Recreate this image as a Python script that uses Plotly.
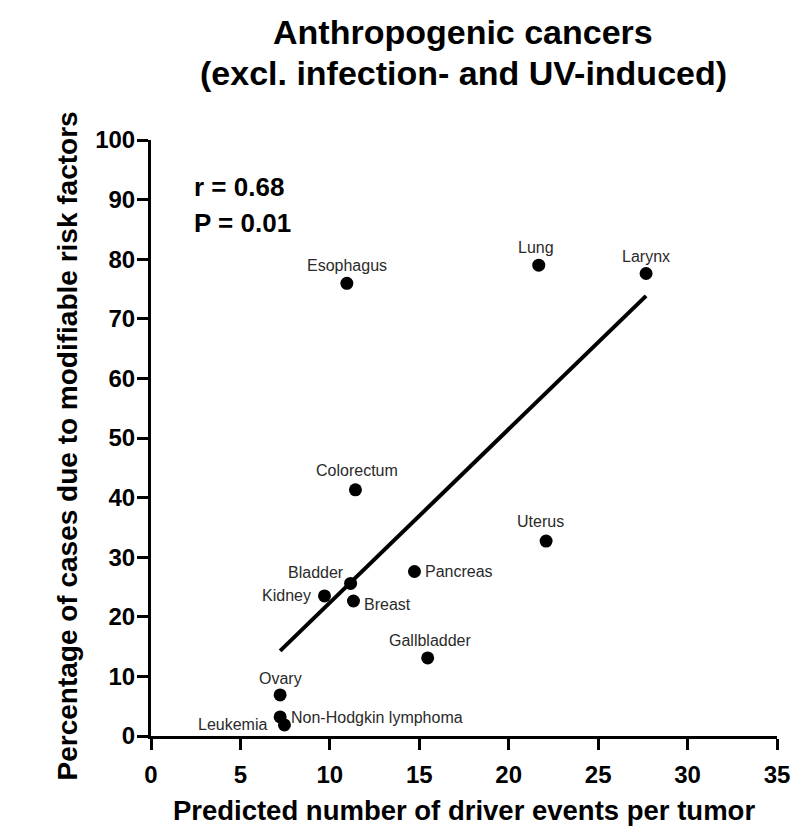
import numpy as np
import plotly.graph_objects as go

cancers = ["Esophagus", "Lung", "Larynx", "Colorectum", "Uterus", "Pancreas",
           "Bladder", "Kidney", "Breast", "Gallbladder", "Ovary", "Leukemia",
           "Non-Hodgkin lymphoma"]
driver_events = [10.95, 21.68, 27.68, 11.43, 22.09, 14.73, 11.16, 9.70, 11.32,
                 15.47, 7.22, 7.22, 7.46]
pct_modifiable = [75.95, 79.0, 77.6, 41.3, 32.7, 27.6, 25.6, 23.5, 22.65,
                  13.1, 6.9, 3.2, 1.85]
x_ticks = [0, 5, 10, 15, 20, 25, 30, 35]
y_ticks = [0, 10, 20, 30, 40, 50, 60, 70, 80, 90, 100]
stats_text = ["r = 0.68", "P = 0.01"]
title_lines = ["Anthropogenic cancers", "(excl. infection- and UV-induced)"]
x_title = "Predicted number of driver events per tumor"
y_title = "Percentage of cases due to modifiable risk factors"

# label placement (pixel offsets / anchors) per cancer
label_pos = {
    "Esophagus": dict(xanchor="center", yanchor="bottom", xshift=0, yshift=7),
    "Lung": dict(xanchor="center", yanchor="bottom", xshift=-3, yshift=7),
    "Larynx": dict(xanchor="center", yanchor="bottom", xshift=0, yshift=7),
    "Colorectum": dict(xanchor="center", yanchor="bottom", xshift=2, yshift=9),
    "Uterus": dict(xanchor="center", yanchor="bottom", xshift=-6, yshift=9),
    "Pancreas": dict(xanchor="left", yanchor="middle", xshift=9, yshift=0),
    "Bladder": dict(xanchor="right", yanchor="middle", xshift=-5, yshift=11),
    "Kidney": dict(xanchor="right", yanchor="middle", xshift=-11, yshift=0),
    "Breast": dict(xanchor="left", yanchor="middle", xshift=9, yshift=-3),
    "Gallbladder": dict(xanchor="center", yanchor="bottom", xshift=3, yshift=7),
    "Ovary": dict(xanchor="center", yanchor="bottom", xshift=0, yshift=6),
    "Leukemia": dict(xanchor="right", yanchor="middle", xshift=-11, yshift=-8),
    "Non-Hodgkin lymphoma": dict(xanchor="left", yanchor="middle", xshift=5, yshift=7),
}

FONT = "Liberation Sans, Arial, sans-serif"

x = np.array(driver_events)
y = np.array(pct_modifiable)
slope, intercept = np.polyfit(x, y, 1)
fit_x = np.array([x.min(), x.max()])
fit_y = slope * fit_x + intercept

fig = go.Figure()
fig.add_trace(go.Scatter(x=fit_x, y=fit_y, mode="lines",
                         line=dict(color="black", width=4), hoverinfo="skip"))
fig.add_trace(go.Scatter(x=driver_events, y=pct_modifiable, mode="markers",
                         marker=dict(color="black", size=13), text=cancers,
                         cliponaxis=False))

for name, xv, yv in zip(cancers, driver_events, pct_modifiable):
    p = label_pos[name]
    fig.add_annotation(x=xv, y=yv, text=name, showarrow=False,
                       font=dict(family=FONT, size=16, color="#2a2a2a"), **p)

for txt, yv in zip(stats_text, [92.1, 86.1]):
    fig.add_annotation(x=2.3, y=yv, text=txt, showarrow=False,
                       xanchor="left", yanchor="middle",
                       font=dict(family=FONT, size=26, color="black", weight="bold"))

# title lines (paper coordinates above the plot area)
for txt, yv in zip(title_lines, [1.182, 1.113]):
    fig.add_annotation(xref="paper", yref="paper", x=0.499, y=yv, text=txt,
                       showarrow=False, xanchor="center", yanchor="middle",
                       font=dict(family=FONT, size=34, color="black", weight="bold"))

# y-axis title as rotated text
fig.add_annotation(xref="paper", yref="paper", x=-0.133, y=0.487, text=y_title,
                   textangle=-90, showarrow=False, xanchor="center", yanchor="middle",
                   font=dict(family=FONT, size=28, color="black", weight="bold"))

axis_common = dict(showgrid=False, zeroline=False, showline=True,
                   linecolor="black", linewidth=3, ticks="outside",
                   ticklen=11, tickwidth=3, tickcolor="black", automargin=False,
                   tickfont=dict(family=FONT, size=24, color="black", weight="bold"))

fig.update_xaxes(range=[0, 35], tickvals=x_ticks, ticktext=[str(t) for t in x_ticks],
                 ticklabelstandoff=4,
                 title=dict(text=x_title,
                            font=dict(family=FONT, size=27.5, color="black", weight="bold"),
                            standoff=18),
                 **axis_common)
fig.update_yaxes(range=[0, 100], tickvals=y_ticks, ticktext=[str(t) for t in y_ticks],
                 ticklabelstandoff=-3,
                 **axis_common)

fig.update_layout(
    width=791, height=826,
    margin=dict(l=151, r=14, t=140, b=90, autoexpand=False),
    paper_bgcolor="white", plot_bgcolor="white",
    showlegend=False,
    font=dict(family=FONT, color="black"),
)

fig.write_html("out.html")
